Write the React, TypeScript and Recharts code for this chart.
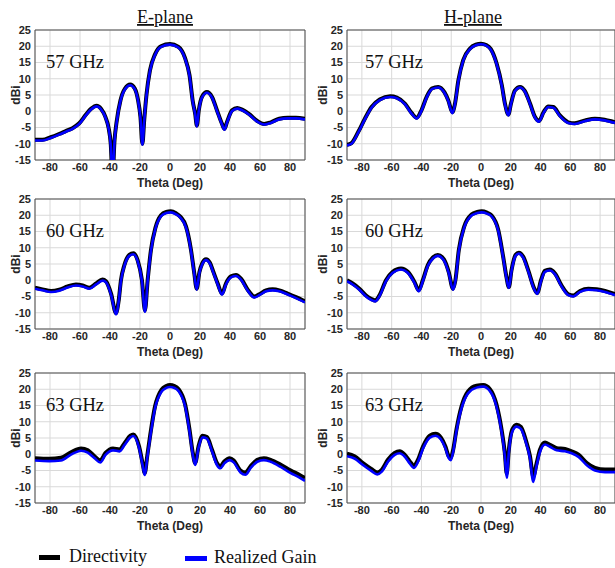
import { CartesianGrid, Line, LineChart, ReferenceArea, XAxis, YAxis } from 'recharts';

// tick values shared by all six panels
const thetaTicks = [-80, -60, -40, -20, 0, 20, 40, 60, 80];
const dbiTicks = [-15, -10, -5, 0, 5, 10, 15, 20, 25];

// E-plane 57 GHz
const e57Theta = [-90, -85, -79.5, -74, -69.5, -65, -60.5, -56, -52.5, -49, -46, -43, -41, -39.5, -38.3, -37, -35.5, -33, -30, -26.5, -23.5, -21.3, -19.7, -18.4, -17.2, -15.7, -13.4, -10, -6, 0, 5.6, 10, 13, 15.2, 16.8, 17.9, 19.2, 21.3, 24.6, 28, 31.3, 34.7, 36.3, 38, 41.4, 44.8, 48.1, 52.6, 58.2, 62.7, 67.2, 72.8, 78.4, 84, 90];
const e57Dir = [-8.8, -8.8, -8.0, -7.0, -6.1, -5.2, -3.7, -1.0, 0.8, 1.7, 0.8, -1.8, -5.0, -10, -20, -9, -3, 3.4, 7.0, 8.2, 7.0, 3.4, -1.8, -10, -2.8, 5.0, 12.5, 17.5, 20.0, 20.7, 19.8, 16.4, 11.1, 3.0, -0.8, -4.4, 0.3, 4.4, 5.9, 4.4, 0.3, -3.9, -5.4, -3.3, 0.3, 1.0, 0.5, -0.8, -3.0, -3.9, -3.4, -2.3, -2.0, -2.0, -2.3];
const e57Gain = [-9.0, -9.0, -8.2, -7.2, -6.3, -5.4, -3.9, -1.2, 0.6, 1.5, 0.6, -2.0, -5.2, -10.5, -21, -9.5, -3.2, 3.2, 6.8, 8.0, 6.8, 3.2, -2.0, -10.3, -3.0, 4.8, 12.3, 17.3, 19.8, 20.5, 19.6, 16.2, 10.9, 2.8, -1.0, -4.7, 0.1, 4.2, 5.7, 4.2, 0.1, -4.1, -5.7, -3.5, 0.1, 0.8, 0.3, -1.0, -3.2, -4.1, -3.6, -2.5, -2.2, -2.2, -2.5];

// H-plane 57 GHz
const h57Theta = [-90, -87, -82.5, -78, -73.5, -68, -61, -56.5, -51, -46.5, -43.2, -40, -36.5, -33, -28.7, -24.6, -22, -19.2, -17.5, -15.2, -12, -7.4, -3.5, 0, 3.5, 6.5, 10.5, 14, 16.1, 18.4, 20.1, 22.8, 26.2, 29.5, 33, 36.3, 38.9, 42, 45.2, 48.6, 53, 58.6, 63, 70, 76.5, 83, 90];
const h57Dir = [-10.3, -9.8, -6.4, -2.3, 1.3, 3.6, 4.6, 4.2, 2.3, -0.6, -2.0, 0.3, 4.4, 7.0, 7.5, 5.9, 3.4, -0.3, 2.3, 9.5, 15.7, 19.3, 20.5, 20.8, 20.4, 19.2, 14.7, 8.0, 2.3, -1.0, 2.3, 6.4, 7.5, 6.2, 2.3, -1.8, -3.0, -0.3, 1.5, 1.3, -1.3, -3.4, -3.7, -2.8, -2.3, -2.6, -3.4];
const h57Gain = [-10.5, -10.0, -6.6, -2.5, 1.1, 3.4, 4.4, 4.0, 2.1, -0.8, -2.2, 0.1, 4.2, 6.8, 7.3, 5.7, 3.2, -0.6, 2.1, 9.3, 15.5, 19.1, 20.3, 20.6, 20.2, 19.0, 14.5, 7.8, 2.1, -1.3, 2.1, 6.2, 7.3, 6.0, 2.1, -2.0, -3.2, -0.5, 1.3, 1.1, -1.5, -3.6, -3.9, -3.0, -2.5, -2.8, -3.6];

// E-plane 60 GHz
const e60Theta = [-90, -85, -79.3, -73.8, -68.2, -62.7, -58.2, -53.8, -49.3, -45, -42.7, -39.3, -36, -34.2, -32.7, -30.4, -27.1, -24.4, -21.6, -18.7, -16.7, -14.9, -12.7, -9.8, -6, -2.5, 0.5, 4, 7, 10.7, 14, 16.2, 17.8, 19.6, 21.5, 24, 26.5, 29, 31.8, 34.7, 37.3, 40.7, 44, 47.3, 51.8, 56.2, 59.6, 64, 68.4, 72.9, 78.4, 84, 90];
const e60Dir = [-2.3, -2.8, -3.3, -2.9, -1.9, -1.3, -1.6, -2.3, -1.0, 0.2, -0.3, -4.1, -10.1, -6.2, 0, 4.7, 7.8, 8.3, 6.2, 0, -9.3, 0, 9.3, 16.0, 20.0, 21.0, 21.2, 20.6, 19.5, 16.5, 9.3, 2.1, -2.6, 2.5, 5.2, 6.5, 5.5, 2.5, -1.0, -4.1, -1.0, 1.2, 1.6, 0.5, -2.9, -5.0, -4.3, -3.1, -2.8, -3.1, -4.1, -5.2, -6.5];
const e60Gain = [-2.6, -3.1, -3.6, -3.2, -2.2, -1.6, -1.9, -2.6, -1.3, -0.1, -0.6, -4.4, -10.5, -6.5, -0.3, 4.4, 7.5, 8.0, 5.9, -0.3, -9.7, -0.3, 9.0, 15.7, 19.7, 20.7, 20.9, 20.3, 19.2, 16.2, 9.0, 1.8, -2.9, 2.2, 4.9, 6.2, 5.2, 2.2, -1.3, -4.4, -1.3, 0.9, 1.3, 0.2, -3.2, -5.3, -4.6, -3.4, -3.1, -3.4, -4.4, -5.5, -6.8];

// H-plane 60 GHz
const h60Theta = [-90, -86.2, -81.7, -77.2, -73.9, -71, -68.3, -63.8, -59.3, -53.7, -49.2, -44.7, -41.8, -39.1, -35.7, -32.3, -29, -24.9, -21.7, -18.8, -17.2, -14.9, -11.3, -6.4, -2.5, 0.5, 4, 7, 11.6, 14.9, 17.1, 18.7, 20.5, 23.2, 25.4, 28.4, 31.7, 35.8, 37.8, 40.3, 42.9, 46.3, 49.7, 54.1, 58.6, 62, 66.5, 72.1, 77.7, 83.3, 90];
const h60Dir = [0, -1.0, -2.6, -4.7, -5.7, -6.2, -4.7, 0, 2.6, 3.6, 2.6, -0.5, -3.1, 0, 4.7, 7.0, 7.8, 6.4, 2.6, -2.6, 0, 9.3, 16.5, 20.2, 21.0, 21.2, 20.8, 20.0, 15.5, 7.2, 1.0, -2.1, 3.1, 7.8, 8.5, 7.2, 3.1, -2.6, -3.9, 0, 2.9, 3.3, 2.1, -1.6, -4.3, -4.7, -3.3, -2.6, -2.8, -3.3, -4.3];
const h60Gain = [-0.3, -1.3, -2.9, -5.0, -6.0, -6.5, -5.0, -0.3, 2.3, 3.3, 2.3, -0.8, -3.4, -0.3, 4.4, 6.7, 7.5, 6.1, 2.3, -2.9, -0.3, 9.0, 16.2, 19.9, 20.7, 20.9, 20.5, 19.7, 15.2, 6.9, 0.7, -2.4, 2.8, 7.5, 8.2, 6.9, 2.8, -2.9, -4.2, -0.3, 2.6, 3.0, 1.8, -1.9, -4.6, -5.0, -3.6, -2.9, -3.1, -3.6, -4.6];

// E-plane 63 GHz
const e63Theta = [-90, -80.5, -72.7, -66, -59.3, -54.8, -50.3, -46.5, -43, -38, -33.6, -30.2, -26.4, -24.5, -20.6, -18.3, -16.8, -15.2, -13, -10, -5.6, -2.5, 0, 3, 5.6, 10.1, 13, 15.2, 16.8, 19, 21.7, 24.6, 28, 31.3, 33.6, 36.2, 39.8, 42.5, 47, 50.3, 53.7, 58.2, 62.6, 67.1, 73.8, 80.5, 86.1, 90];
const e63Dir = [-1.2, -1.4, -1.1, 0.6, 1.8, 1.2, -0.6, -1.9, 0.4, 1.8, 1.5, 3.5, 5.7, 6.1, 2.4, -2.7, -5.8, -0.6, 6.5, 14.7, 19.9, 21.0, 21.3, 21.0, 20.1, 15.3, 7.6, 0.4, -2.7, 2.4, 5.7, 5.3, 1.4, -2.7, -3.7, -2.2, -1.2, -1.9, -5.0, -5.6, -3.7, -1.7, -1.2, -1.7, -3.2, -5.0, -6.3, -7.3];
const e63Gain = [-1.9, -2.1, -1.9, -0.1, 1.1, 0.5, -1.2, -2.5, -0.2, 1.2, 0.9, 2.9, 5.2, 5.6, 1.9, -3.3, -6.4, -1.2, 5.9, 14.1, 19.3, 20.4, 20.7, 20.4, 19.5, 14.7, 7.0, -0.2, -3.3, 1.9, 5.2, 4.8, 0.9, -3.3, -4.3, -2.8, -1.8, -2.5, -5.6, -6.3, -4.3, -2.3, -1.8, -2.3, -3.9, -5.8, -7.1, -8.2];

// H-plane 63 GHz
const h63Theta = [-90, -85, -79.3, -73.7, -69.7, -66.5, -62.5, -58, -54.6, -51.3, -47.9, -45, -42.3, -38.9, -34.4, -30.6, -27, -23.9, -21.7, -20.3, -18.7, -16.5, -13.1, -8.6, -3, 1.5, 5.9, 10.4, 13.8, 16, 17.3, 18.7, 21, 23.9, 26.8, 30, 32.9, 35.1, 37.4, 39.6, 43, 46.3, 50.8, 56.4, 60.9, 65.5, 71.1, 76.6, 83.3, 90];
const h63Dir = [0.2, -0.6, -2.7, -4.5, -5.6, -4.7, -1.7, 0.4, 0.9, -0.1, -2.2, -3.5, -1.7, 2.4, 5.7, 6.3, 5.2, 2.4, -0.6, -1.1, 1.4, 7.6, 14.7, 19.4, 21.1, 21.3, 20.1, 15.3, 7.6, 0.4, -6.0, 1.4, 7.6, 9.1, 8.4, 4.5, -0.6, -6.8, -2.7, 1.4, 3.6, 2.9, 1.9, 1.6, 0.9, -0.1, -2.7, -4.2, -4.7, -4.7];
const h63Gain = [-0.6, -1.3, -3.3, -5.1, -6.2, -5.3, -2.3, -0.2, 0.3, -0.7, -2.8, -4.2, -2.3, 1.8, 5.1, 5.7, 4.6, 1.8, -1.2, -1.8, 0.8, 7.0, 14.1, 18.8, 20.5, 20.8, 19.5, 14.7, 7.0, -0.5, -7.2, 0.6, 7.0, 8.5, 7.8, 3.9, -1.3, -8.5, -3.4, 0.7, 3.0, 2.3, 1.2, 0.9, 0.3, -0.8, -3.4, -5.0, -5.5, -5.5];

const SANS = 'Liberation Sans, Arial, sans-serif';
const SERIF = 'Liberation Serif, Times New Roman, serif';

const Y_W = 35;
const M_TOP = 10;
const X_H = 30;
const PLOT_H = 130;

type PanelProps = {
  plotLeft: number;
  plotRight: number;
  plotTop: number;
  theta: number[];
  dir: number[];
  gain: number[];
};

const Panel = ({ plotLeft, plotRight, plotTop, theta, dir, gain }: PanelProps) => {
  const rows = theta.map((t, i) => ({ theta: t, d: dir[i], g: gain[i] }));
  const plotW = plotRight - plotLeft;
  return (
    <div style={{ position: 'absolute', left: plotLeft - Y_W, top: plotTop - M_TOP }}>
      <LineChart
        width={Y_W + plotW + 2}
        height={M_TOP + PLOT_H + X_H + 2}
        data={rows}
        margin={{ top: M_TOP, right: 2, bottom: 2, left: 0 }}
      >
        <CartesianGrid stroke="#d9d9d9" fill="none" />
        <XAxis
          type="number"
          dataKey="theta"
          domain={[-90, 90]}
          ticks={thetaTicks}
          interval={0}
          allowDataOverflow
          height={X_H}
          axisLine={false}
          tickLine={false}
          tickSize={2}
          tickMargin={1}
          tick={{ fontSize: 11, fontWeight: 700, fill: '#262626', fontFamily: SANS }}
          label={{ value: 'Theta (Deg)', position: 'insideBottom', offset: 3, fontSize: 12, fontWeight: 700, fill: '#262626', fontFamily: SANS }}
        />
        <YAxis
          type="number"
          domain={[-15, 25]}
          ticks={dbiTicks}
          interval={0}
          allowDataOverflow
          width={Y_W}
          axisLine={false}
          tickLine={false}
          tickSize={3}
          tickMargin={1}
          tick={{ fontSize: 11, fontWeight: 700, fill: '#262626', fontFamily: SANS }}
        />
        <ReferenceArea x1={-90} x2={90} y1={-15} y2={25} fill="none" stroke="#4d4d4d" strokeWidth={1} />
        <Line type="monotone" dataKey="d" stroke="#000000" strokeWidth={4} dot={false} isAnimationActive={false} />
        <Line type="monotone" dataKey="g" stroke="#0000ff" strokeWidth={2.6} dot={false} isAnimationActive={false} />
      </LineChart>
    </div>
  );
};

const rowsTop = [30, 199, 373];
const freqs = ['57 GHz', '60 GHz', '63 GHz'];

const App = () => {
  return (
    <div style={{ position: 'absolute', left: 0, top: 0, width: 615, height: 568, overflow: 'hidden', background: '#fff' }}>
      <Panel plotLeft={35} plotRight={305} plotTop={rowsTop[0]} theta={e57Theta} dir={e57Dir} gain={e57Gain} />
      <Panel plotLeft={347} plotRight={615} plotTop={rowsTop[0]} theta={h57Theta} dir={h57Dir} gain={h57Gain} />
      <Panel plotLeft={35} plotRight={305} plotTop={rowsTop[1]} theta={e60Theta} dir={e60Dir} gain={e60Gain} />
      <Panel plotLeft={347} plotRight={615} plotTop={rowsTop[1]} theta={h60Theta} dir={h60Dir} gain={h60Gain} />
      <Panel plotLeft={35} plotRight={305} plotTop={rowsTop[2]} theta={e63Theta} dir={e63Dir} gain={e63Gain} />
      <Panel plotLeft={347} plotRight={615} plotTop={rowsTop[2]} theta={h63Theta} dir={h63Dir} gain={h63Gain} />

      {/* titles, frequency tags, y labels and legend */}
      <svg width={615} height={568} style={{ position: 'absolute', left: 0, top: 0, pointerEvents: 'none' }}>
        <text x={165} y={23} textAnchor="middle" fontSize={18} fontFamily={SERIF} fill="#111" textDecoration="underline">E-plane</text>
        <text x={473} y={23} textAnchor="middle" fontSize={18} fontFamily={SERIF} fill="#111" textDecoration="underline">H-plane</text>
        {rowsTop.map((top, i) => (
          <g key={i}>
            <text x={46} y={top + 38} fontSize={18.5} fontFamily={SERIF} fill="#111">{freqs[i]}</text>
            <text x={365} y={top + 38} fontSize={18.5} fontFamily={SERIF} fill="#111">{freqs[i]}</text>
            <text x={20} y={top + 65} transform={`rotate(-90 20 ${top + 65})`} textAnchor="middle" fontSize={12} fontWeight={700} fontFamily={SANS} fill="#262626">dBi</text>
            <text x={326.5} y={top + 65} transform={`rotate(-90 326.5 ${top + 65})`} textAnchor="middle" fontSize={12} fontWeight={700} fontFamily={SANS} fill="#262626">dBi</text>
          </g>
        ))}
        <rect x={39} y={555} width={21} height={5} fill="#000" />
        <text x={69} y={562} fontSize={18} fontFamily={SERIF} fill="#111">Directivity</text>
        <rect x={185} y={556} width={22} height={5} fill="#0000ff" />
        <text x={214} y={563} fontSize={18} fontFamily={SERIF} fill="#111">Realized Gain</text>
      </svg>
    </div>
  );
};

export default App;
